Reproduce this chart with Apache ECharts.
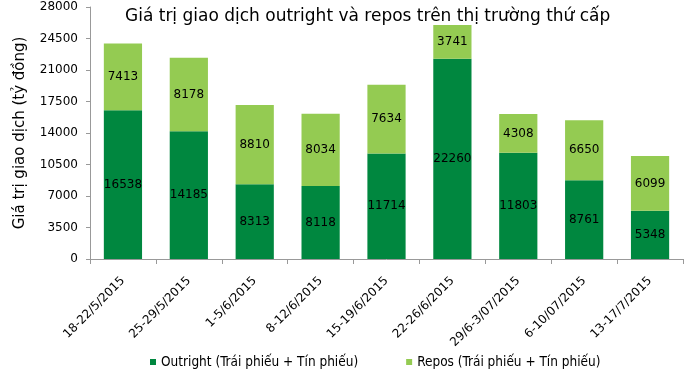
<!DOCTYPE html>
<html><head><meta charset="utf-8">
<script src="https://cdn.jsdelivr.net/npm/echarts@6/dist/echarts.min.js"></script>
<style>html,body{margin:0;padding:0;background:#fff}#c{width:700px;height:374px}</style>
</head><body><div id="c"></div>
<script>
const categories = ["18-22/5/2015","25-29/5/2015","1-5/6/2015","8-12/6/2015","15-19/6/2015","22-26/6/2015","29/6-3/07/2015","6-10/07/2015","13-17/7/2015"];
const outright = [16538,14185,8313,8118,11714,22260,11803,8761,5348];
const repos = [7413,8178,8810,8034,7634,3741,4308,6650,6099];
const seriesNames = ["Outright (Trái phiếu + Tín phiếu)","Repos (Trái phiếu + Tín phiếu)"];
const titleText = "Giá trị giao dịch outright và repos trên thị trường thứ cấp";
const yName = "Giá trị giao dịch (tỷ đồng)";

const chart = echarts.init(document.getElementById('c'), null, {renderer:'canvas'});
const lbl = {show:true, position:'inside', color:'#000', fontFamily:'DejaVu Sans', fontSize:12};
chart.setOption({
  animation:false,
  title:{text:titleText, left:120, top:3, textStyle:{fontFamily:'DejaVu Sans', fontSize:17, fontWeight:'normal', color:'#000'}},
  legend:{bottom:0, left:145, itemWidth:6, itemHeight:6, itemGap:48, icon:'rect',
    textStyle:{fontFamily:'DejaVu Sans Condensed', fontSize:13.5, color:'#000'}},
  grid:{left:90, right:17, top:7, bottom:115, containLabel:false},
  xAxis:{type:'category', data:categories,
    axisLine:{lineStyle:{color:'#999'}},
    axisTick:{show:true, alignWithLabel:false, length:5, lineStyle:{color:'#999'}},
    axisLabel:{rotate:45, interval:0, margin:20, color:'#000', fontFamily:'DejaVu Sans', fontSize:12}},
  yAxis:{type:'value', min:0, max:28000, interval:3500,
    name:yName, nameLocation:'middle', nameGap:62, nameTextStyle:{fontFamily:'DejaVu Sans', fontSize:15, color:'#000'},
    splitLine:{show:false},
    axisLine:{show:true, lineStyle:{color:'#999'}},
    axisTick:{show:true, length:4, lineStyle:{color:'#999'}},
    axisLabel:{margin:12, color:'#000', fontFamily:'DejaVu Sans', fontSize:12, formatter:function(v){return String(v);}}},
  series:[
    {name:seriesNames[0], type:'bar', stack:'a', data:outright, barWidth:'58%', itemStyle:{color:'#00873F'}, label:lbl},
    {name:seriesNames[1], type:'bar', stack:'a', data:repos, barWidth:'58%', itemStyle:{color:'#94CB52'}, label:lbl}
  ]
});
</script></body></html>
